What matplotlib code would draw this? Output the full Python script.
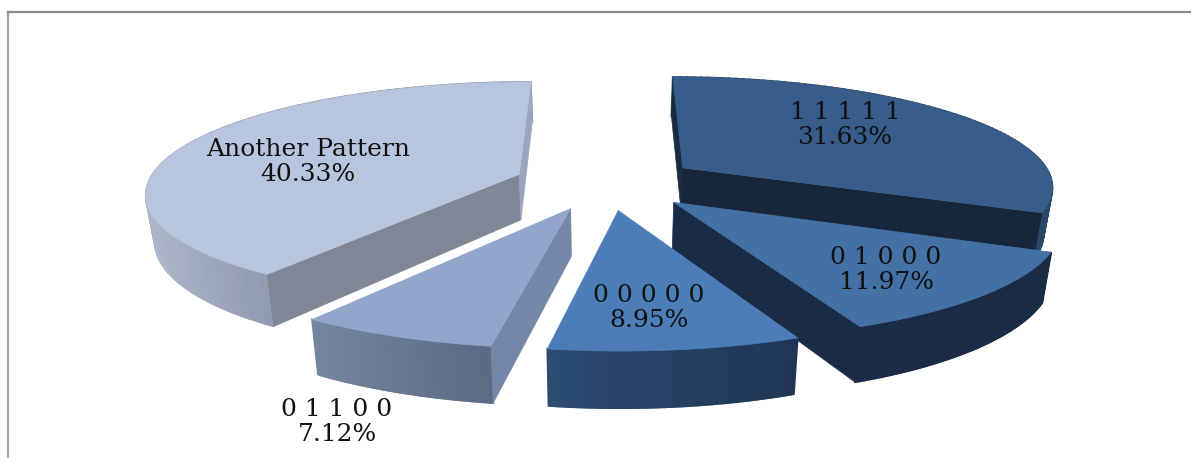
import numpy as np
import matplotlib
matplotlib.use("Agg")
import matplotlib.pyplot as plt
from matplotlib.patches import Polygon
from matplotlib.path import Path
from matplotlib.colors import to_rgb

# ---- data ----
patterns = ["1 1 1 1 1", "0 1 0 0 0", "0 0 0 0 0", "0 1 1 0 0", "Another Pattern"]
shares = [31.63, 11.97, 8.95, 7.12, 40.33]

# ---- styles ----
top_colors = ["#385D8A", "#4371A6", "#4C7DB8", "#92A6CC", "#B8C5DE"]
start_wall = ["#1B2B40", "#1A2C45", "#1A2C45", "#7587A6", "#7F8696"]
end_wall = ["#17263A", "#1A2C45", "#1A2C45", "#7587A6", "#9AA6BE"]
outer_left = ["#2A4668", "#1A2C45", "#2C4C72", "#73859F", "#ADB6C9"]
outer_right = ["#2A4668", "#1A2C45", "#1F3553", "#5A6A85", "#909AB0"]
label_xy = [(845, 125), (886, 270), (649, 308), (337, 422), (308, 162)]
draw_order = [0, 4, 1, 3, 2]

CX, CY, RX, RY, PERSP = 606.7, 182.4, 371.0, 109.0, 0.155
EXPLODE, DEPTH, BOTTOM_SCALE = 0.25, 46.0, 0.98


def project(u, v, bottom=False):
    w = 1 + PERSP * v
    x = RX * u / w
    y = -RY * v / w
    if bottom:
        return CX + x * BOTTOM_SCALE, CY + y + DEPTH / w
    return CX + x, CY + y


fig = plt.figure(figsize=(11.91, 4.58), dpi=100, facecolor="white")
ax = fig.add_axes([0, 0, 1, 1])
ax.axis("off")
zorder = [1.0]


def flat_poly(xs, ys, color, lw=0.5):
    ax.add_patch(Polygon(np.column_stack([xs, ys]), closed=True, facecolor=color,
                         edgecolor=color, linewidth=lw, zorder=zorder[0]))
    zorder[0] += 0.001


shares_arr = np.array(shares)
edges = 90 - np.concatenate([[0], np.cumsum(shares_arr / shares_arr.sum() * 360)])

for i in draw_order:
    a0, a1 = np.radians(edges[i]), np.radians(edges[i + 1])
    mid = (a0 + a1) / 2
    ou, ov = EXPLODE * np.cos(mid), EXPLODE * np.sin(mid)
    t = np.linspace(a0, a1, 90)
    au, av = ou + np.cos(t), ov + np.sin(t)

    tx, ty = project(au, av)
    bx, by = project(au, av, bottom=True)
    ax0, ay0 = project(ou, ov)
    bx0, by0 = project(ou, ov, bottom=True)
    face = np.column_stack([np.r_[ax0, tx], np.r_[ay0, ty]])
    path = Path(np.r_[face, face[:1]])

    # outer rim as thin quads, shaded left to right over its front part
    front = np.sin(t) < 0.15
    x_lo, x_hi = tx[front].min(), tx[front].max()
    c_l, c_r = np.array(to_rgb(outer_left[i])), np.array(to_rgb(outer_right[i]))
    for s in range(len(t) - 1):
        f = np.clip(((tx[s] + tx[s + 1]) / 2 - x_lo) / max(x_hi - x_lo, 1), 0, 1)
        flat_poly([tx[s], tx[s + 1], bx[s + 1], bx[s]],
                  [ty[s], ty[s + 1], by[s + 1], by[s]],
                  tuple(c_l * (1 - f) + c_r * f), lw=1.3)

    # radial walls: only those that are not hidden under the top face
    for j, col in ((0, start_wall[i]), (-1, end_wall[i])):
        mx, my = (ax0 + tx[j]) / 2, (ay0 + ty[j]) / 2
        if not path.contains_point((mx, my + 3)):
            flat_poly([ax0, tx[j], bx[j], bx0], [ay0, ty[j], by[j], by0], col)

    flat_poly(face[:, 0], face[:, 1], top_colors[i])

# chart frame
ax.plot([8, 8], [12, 458], color="#A6A6A6", lw=1.6, zorder=0.5)
ax.plot([8, 1191], [12, 12], color="#8C8C8C", lw=1.6, zorder=0.5)

for name, share, (lx, ly) in zip(patterns, shares, label_xy):
    ax.text(lx, ly, f"{name}\n{share:.2f}%", ha="center", va="center",
            family="DejaVu Serif", fontsize=18, color="#111111",
            linespacing=1.1, zorder=50)

ax.set_xlim(0, 1191)
ax.set_ylim(458, 0)
fig.savefig("out.png", dpi=100, facecolor="white")
